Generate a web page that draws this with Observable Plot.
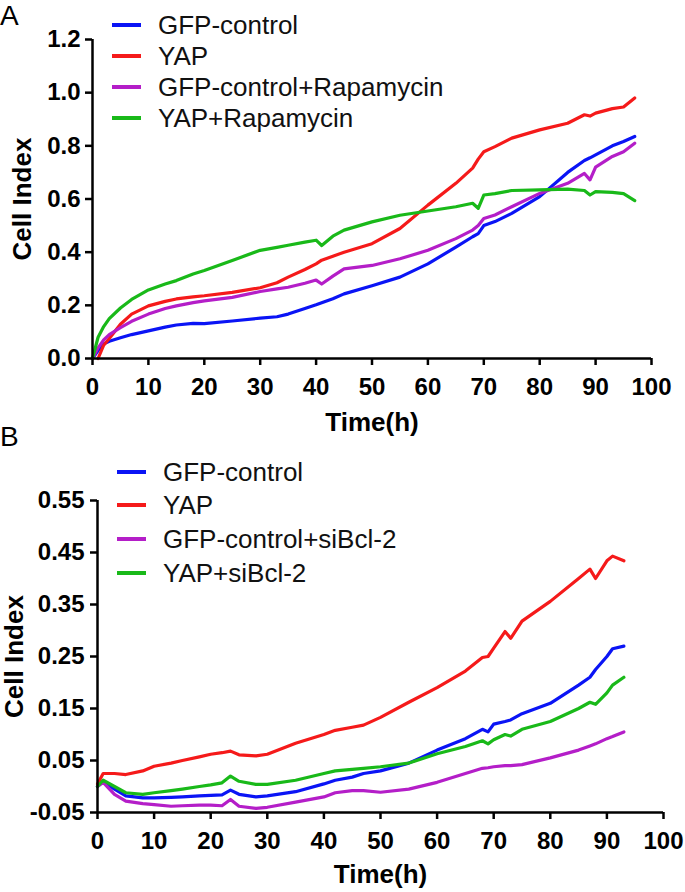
<!DOCTYPE html>
<html><head><meta charset="utf-8">
<script src="https://cdn.jsdelivr.net/npm/d3@7"></script>
<script src="https://cdn.jsdelivr.net/npm/@observablehq/plot@0.6"></script>
<style>
body{margin:0;background:#fff;}
#root{position:relative;width:685px;height:892px;overflow:hidden;font-family:"Liberation Sans",Arial,sans-serif;background:#fff;}
.panel{position:absolute;left:0;}
.tag{position:absolute;left:0;font-size:28px;line-height:32px;color:#000;}
.legend{position:absolute;left:0;top:0;font-size:26px;color:#111;}
.legend .row{position:absolute;height:30px;display:flex;align-items:center;white-space:nowrap;line-height:30px;}
.legend .sw{width:29px;height:4px;margin-right:17px;}
</style></head><body><div id="root"></div>
<script>
// ---------- shared ----------
const xTicks = [0,10,20,30,40,50,60,70,80,90,100];
const colors = ["#0a14f5", "#f51a1a", "#b41ec8", "#19b919"];

// ---------- Panel A ----------
const namesA = ["GFP-control", "YAP", "GFP-control+Rapamycin", "YAP+Rapamycin"];
const yTicksA = [0, 0.2, 0.4, 0.6, 0.8, 1.0, 1.2];
const timeA = [0,1,2,3,5,7,10,13,15,18,20,25,30,33,35,38,40,41,43,45,50,55,60,65,68,69,70,72,75,80,85,88,89,90,93,95,97];
const gfpA  = [0,0.03,0.055,0.065,0.078,0.09,0.104,0.118,0.126,0.132,0.131,0.141,0.152,0.157,0.167,0.188,0.202,0.21,0.225,0.243,0.274,0.306,0.356,0.419,0.458,0.47,0.50,0.515,0.546,0.609,0.70,0.745,0.755,0.766,0.80,0.816,0.835];
const yapA  = [null,0,0.05,0.075,0.129,0.167,0.198,0.215,0.224,0.232,0.236,0.249,0.266,0.285,0.306,0.335,0.356,0.37,0.385,0.40,0.432,0.489,0.577,0.659,0.716,0.75,0.778,0.797,0.829,0.86,0.885,0.917,0.912,0.923,0.94,0.946,0.98];
const gfpRapA = [0,0.04,0.07,0.09,0.116,0.14,0.167,0.188,0.198,0.21,0.217,0.23,0.252,0.262,0.268,0.283,0.295,0.28,0.31,0.337,0.35,0.375,0.407,0.451,0.483,0.50,0.527,0.54,0.571,0.621,0.659,0.696,0.672,0.72,0.76,0.778,0.81];
const yapRapA = [0,0.08,0.12,0.15,0.19,0.222,0.258,0.28,0.293,0.318,0.331,0.369,0.407,0.418,0.426,0.438,0.445,0.425,0.46,0.483,0.514,0.539,0.555,0.571,0.584,0.565,0.615,0.62,0.632,0.634,0.637,0.632,0.615,0.628,0.625,0.62,0.594];

// ---------- Panel B ----------
const namesB = ["GFP-control", "YAP", "GFP-control+siBcl-2", "YAP+siBcl-2"];
const yTicksB = [-0.05, 0.05, 0.15, 0.25, 0.35, 0.45, 0.55];
const timeB = [0,1,3,5,8,10,13,15,18,20,22,23.5,25,28,30,35,40,42,45,47,50,55,60,65,68,69,70,72,73,75,80,85,87,88,90,91,93];
const gfpB  = [0,0.01,-0.005,-0.018,-0.022,-0.022,-0.021,-0.02,-0.018,-0.017,-0.016,-0.007,-0.015,-0.02,-0.018,-0.01,0.005,0.012,0.018,0.025,0.03,0.045,0.07,0.092,0.11,0.105,0.12,0.125,0.128,0.14,0.16,0.195,0.21,0.225,0.25,0.265,0.27];
const yapB  = [0.005,0.025,0.025,0.023,0.03,0.039,0.045,0.05,0.057,0.062,0.065,0.068,0.061,0.059,0.062,0.083,0.10,0.108,0.114,0.118,0.133,0.162,0.19,0.222,0.248,0.25,0.266,0.298,0.285,0.318,0.356,0.40,0.418,0.40,0.434,0.443,0.434];
const gfpSiB = [0,0.008,-0.015,-0.028,-0.033,-0.035,-0.038,-0.037,-0.036,-0.036,-0.037,-0.025,-0.038,-0.042,-0.04,-0.03,-0.02,-0.012,-0.008,-0.008,-0.011,-0.005,0.008,0.025,0.035,0.036,0.038,0.04,0.04,0.042,0.055,0.07,0.078,0.082,0.092,0.096,0.105];
const yapSiB = [0,0.012,0,-0.012,-0.015,-0.012,-0.008,-0.005,0,0.003,0.007,0.02,0.01,0.004,0.004,0.012,0.025,0.03,0.033,0.035,0.038,0.045,0.063,0.077,0.088,0.082,0.09,0.1,0.097,0.11,0.125,0.15,0.162,0.158,0.18,0.195,0.21];

function toRows(times, series, names) {
  const rows = [];
  series.forEach((vals, i) => vals.forEach((v, j) => {
    if (v != null) rows.push({t: times[j], v, s: names[i]});
  }));
  return rows;
}

function makePanel(o) {
  const rows = toRows(o.times, o.series, o.names);
  return Plot.plot({
    width: 685, height: o.height,
    marginTop: o.mt, marginBottom: o.mb, marginLeft: o.ml, marginRight: o.mr,
    style: {fontFamily: "'Liberation Sans', Arial, sans-serif", background: "transparent", color: "#000", overflow: "visible"},
    x: {domain: [0, 100]},
    y: {domain: o.yDomain},
    color: {domain: o.names, range: colors},
    marks: [
      Plot.line(rows, {x: "t", y: "v", z: "s", stroke: "s", strokeWidth: 3.2}),
      Plot.ruleX([0], {stroke: "#000", strokeWidth: 2.5}),
      Plot.ruleY([o.yDomain[0]], {stroke: "#000", strokeWidth: 2.5}),
      Plot.axisX({ticks: xTicks, tickSize: 7, tickPadding: 12, strokeWidth: 2.5,
        fontSize: 24, fontWeight: "bold", tickFormat: d => String(d), label: null}),
      Plot.axisX({ticks: [], label: "Time(h)", labelAnchor: "center", labelOffset: o.xlo,
        fontSize: 26, fontWeight: "bold", labelArrow: "none"}),
      Plot.axisY({ticks: o.yTicks, tickSize: 7, tickPadding: o.tp, strokeWidth: 2.5,
        fontSize: 24, fontWeight: "bold", tickFormat: o.fmt, label: null}),
      Plot.axisY({ticks: [], label: "Cell Index", labelAnchor: "center", labelOffset: o.lo,
        fontSize: 26, fontWeight: "bold", labelArrow: "none"})
    ]
  });
}

const root = document.getElementById("root");

function addPanel(top, svg) {
  const d = document.createElement("div");
  d.className = "panel"; d.style.top = top + "px";
  d.appendChild(svg); root.appendChild(d);
}

function addLegend(names, left, centers) {
  const lg = document.createElement("div");
  lg.className = "legend";
  names.forEach((n, i) => {
    const r = document.createElement("div");
    r.className = "row";
    r.style.left = left + "px";
    r.style.top = (centers[i] - 15) + "px";
    const sw = document.createElement("span");
    sw.className = "sw"; sw.style.background = colors[i];
    const tx = document.createElement("span");
    tx.textContent = n;
    r.appendChild(sw); r.appendChild(tx);
    lg.appendChild(r);
  });
  root.appendChild(lg);
}

function addTag(text, top) {
  const t = document.createElement("div");
  t.className = "tag"; t.style.top = top + "px"; t.textContent = text;
  root.appendChild(t);
}

addPanel(0, makePanel({height: 440, mt: 39, mb: 82, ml: 92, mr: 34,
  yDomain: [0, 1.2], yTicks: yTicksA, fmt: d => d.toFixed(1), tp: 5, lo: 80, xlo: 72,
  times: timeA, series: [gfpA, yapA, gfpRapA, yapRapA], names: namesA}));

addPanel(440, makePanel({height: 452, mt: 60, mb: 80, ml: 97, mr: 22,
  yDomain: [-0.05, 0.55], yTicks: yTicksB, fmt: d => d.toFixed(2), tp: 6, lo: 93, xlo: 70,
  times: timeB, series: [gfpB, yapB, gfpSiB, yapSiB], names: namesB}));

addLegend(namesA, 112, [25, 56, 87, 118]);
addLegend(namesB, 117, [472, 505, 539, 573]);
addTag("A", 0);
addTag("B", 421);
</script></body></html>
